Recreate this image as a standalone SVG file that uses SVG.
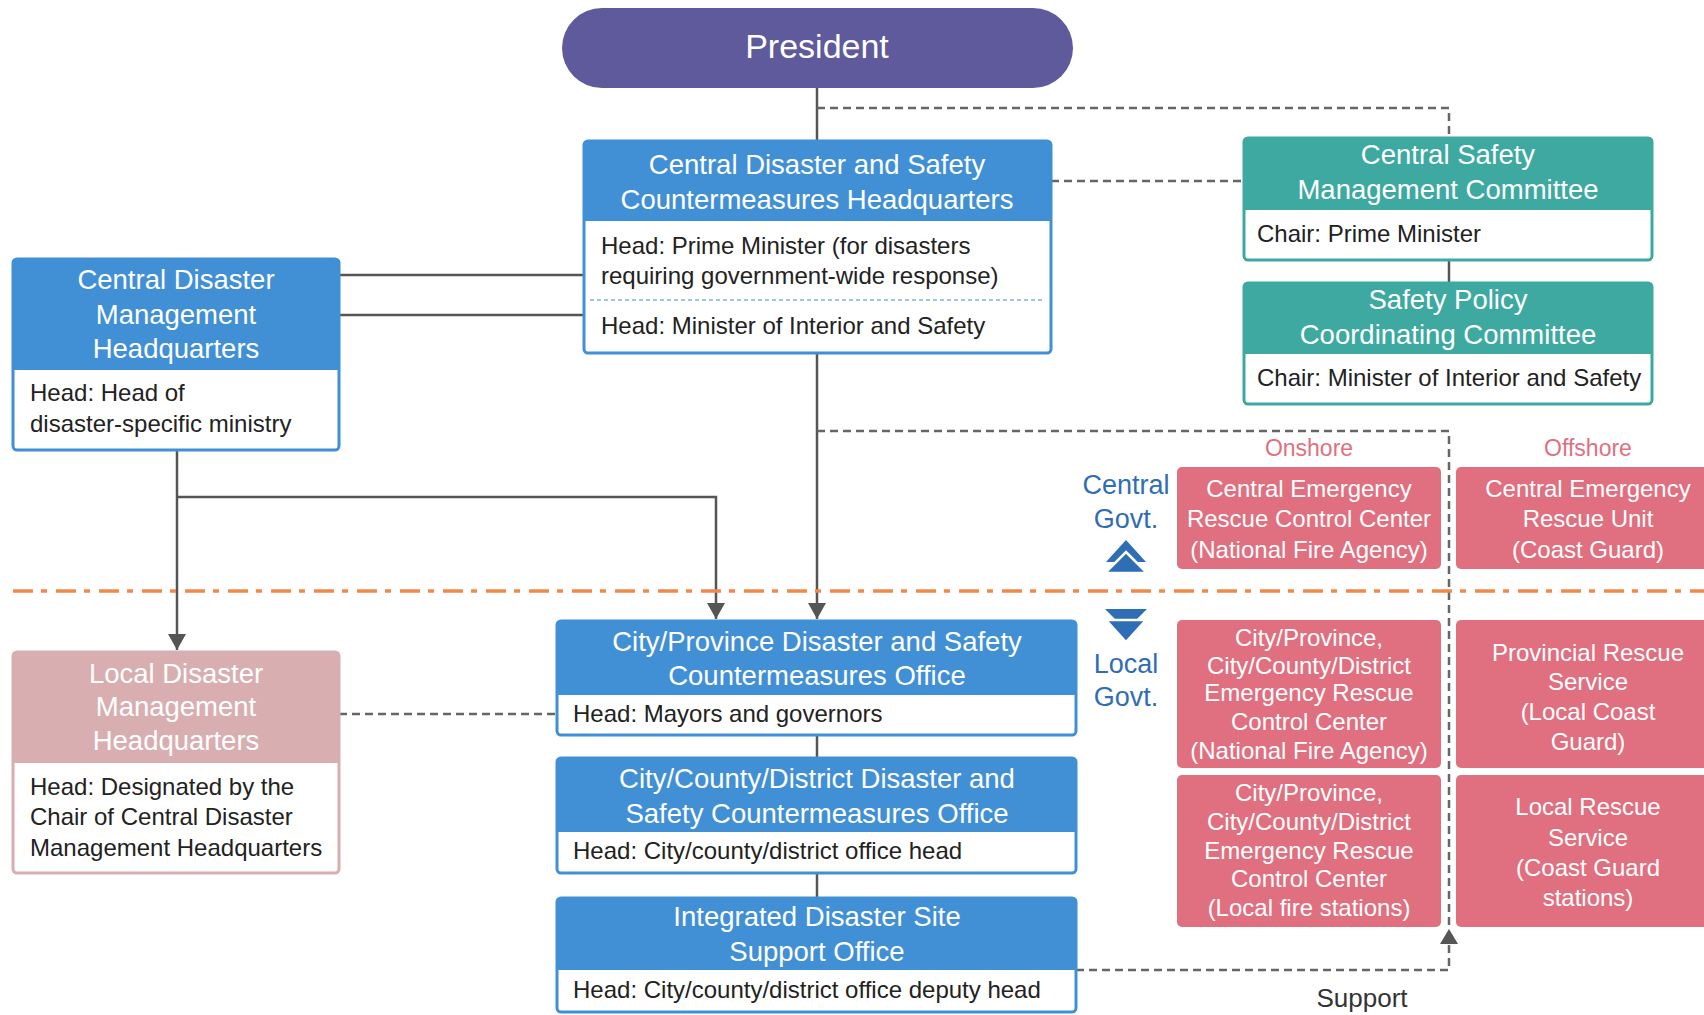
<svg xmlns="http://www.w3.org/2000/svg" width="1704" height="1015" viewBox="0 0 1704 1015">
<style>
text{font-family:"Liberation Sans",Arial,sans-serif}
.hd{fill:#fff;font-size:27.5px;text-anchor:middle}
.bd{fill:#222;font-size:24px}
.rs{fill:#fff;font-size:24px;text-anchor:middle}
.blue{fill:#4190D5}
.teal{fill:#3DA9A1}
.pk{fill:#E0707F}
.box{fill:#fff;stroke-width:3}
.ln{fill:none;stroke:#555;stroke-width:2.5}
.dl{fill:none;stroke:#666;stroke-width:2.5;stroke-dasharray:8 5}
.gv{fill:#2F6DB5;font-size:27px;text-anchor:middle}
.sh{fill:#E0707F;font-size:23px;text-anchor:middle}
.chev{fill:#2F6DB5}
</style>
<defs>
<marker id="arr" viewBox="0 0 10 10" refX="10" refY="5" markerWidth="16" markerHeight="18" markerUnits="userSpaceOnUse" orient="auto" preserveAspectRatio="none">
<path d="M0,0 L10,5 L0,10 z" fill="#555"/>
</marker>
</defs>
<rect width="1704" height="1015" fill="#fff"/>

<g id="connectors">
<path class="ln" d="M817,88 V141"/>
<path class="dl" d="M817,108 H1449 V138"/>
<path class="dl" d="M1051,181 H1244"/>
<path class="ln" d="M1449,260 V283"/>
<path class="ln" d="M339,275 H584"/>
<path class="ln" d="M339,315 H584"/>
<path class="ln" d="M177,450 V650" marker-end="url(#arr)"/>
<path class="ln" d="M177,497 H716 V619" marker-end="url(#arr)"/>
<path class="ln" d="M817,353 V619" marker-end="url(#arr)"/>
<path class="dl" d="M817,431 H1449 V929"/>
<path class="dl" d="M1076,970 H1449 V929"/>
<path d="M1449,929 L1458,944 L1440,944 z" fill="#555"/>
<path class="dl" d="M339,714 H557"/>
<path class="ln" d="M817,735 V758"/>
<path class="ln" d="M817,873 V898"/>
</g>

<g id="divider">
<path d="M13,591 H1704" fill="none" stroke="#F08A4B" stroke-width="3.5" stroke-dasharray="20 8 6 9"/>
</g>

<g id="president">
<rect x="562" y="8" width="511" height="80" rx="40" fill="#5E5A9B"/>
<text x="817" y="58" fill="#fff" font-size="34" text-anchor="middle">President</text>
</g>

<g id="cdsch">
<rect class="box" x="584" y="141" width="467" height="212" rx="4" stroke="#4190D5"/>
<path class="blue" d="M584,145 a4,4 0 0 1 4,-4 H1047 a4,4 0 0 1 4,4 V221 H584 z"/>
<text class="hd" x="817" y="174">Central Disaster and Safety</text>
<text class="hd" x="817" y="209">Countermeasures Headquarters</text>
<text class="bd" x="601" y="254">Head: Prime Minister (for disasters</text>
<text class="bd" x="601" y="284">requiring government-wide response)</text>
<path d="M590,300 H1045" stroke="#7FB3E3" stroke-width="1.5" stroke-dasharray="4 3"/>
<text class="bd" x="601" y="334">Head: Minister of Interior and Safety</text>
</g>

<g id="csmc">
<rect class="box" x="1244" y="138" width="408" height="122" rx="4" stroke="#3DA9A1"/>
<path class="teal" d="M1244,142 a4,4 0 0 1 4,-4 H1648 a4,4 0 0 1 4,4 V210 H1244 z"/>
<text class="hd" x="1448" y="164">Central Safety</text>
<text class="hd" x="1448" y="199">Management Committee</text>
<text class="bd" x="1257" y="242">Chair: Prime Minister</text>
</g>

<g id="spcc">
<rect class="box" x="1244" y="283" width="408" height="121" rx="4" stroke="#3DA9A1"/>
<path class="teal" d="M1244,287 a4,4 0 0 1 4,-4 H1648 a4,4 0 0 1 4,4 V354 H1244 z"/>
<text class="hd" x="1448" y="309">Safety Policy</text>
<text class="hd" x="1448" y="344">Coordinating Committee</text>
<text class="bd" x="1257" y="386">Chair: Minister of Interior and Safety</text>
</g>

<g id="cdmh">
<rect class="box" x="13" y="259" width="326" height="191" rx="4" stroke="#4190D5"/>
<path class="blue" d="M13,263 a4,4 0 0 1 4,-4 H335 a4,4 0 0 1 4,4 V370 H13 z"/>
<text class="hd" x="176" y="289">Central Disaster</text>
<text class="hd" x="176" y="324">Management</text>
<text class="hd" x="176" y="358">Headquarters</text>
<text class="bd" x="30" y="401">Head: Head of</text>
<text class="bd" x="30" y="432">disaster-specific ministry</text>
</g>

<g id="ldmh">
<rect class="box" x="13" y="652" width="326" height="221" rx="4" stroke="#D9AEB1"/>
<path d="M13,656 a4,4 0 0 1 4,-4 H335 a4,4 0 0 1 4,4 V763 H13 z" fill="#D9AEB1"/>
<text class="hd" x="176" y="683">Local Disaster</text>
<text class="hd" x="176" y="716">Management</text>
<text class="hd" x="176" y="750">Headquarters</text>
<text class="bd" x="30" y="795">Head: Designated by the</text>
<text class="bd" x="30" y="825">Chair of Central Disaster</text>
<text class="bd" x="30" y="856">Management Headquarters</text>
</g>

<g id="cpdsco">
<rect class="box" x="557" y="621" width="519" height="114" rx="4" stroke="#4190D5"/>
<path class="blue" d="M557,625 a4,4 0 0 1 4,-4 H1072 a4,4 0 0 1 4,4 V695 H557 z"/>
<text class="hd" x="817" y="651">City/Province Disaster and Safety</text>
<text class="hd" x="817" y="685">Countermeasures Office</text>
<text class="bd" x="573" y="722">Head: Mayors and governors</text>
</g>

<g id="ccddsco">
<rect class="box" x="557" y="758" width="519" height="115" rx="4" stroke="#4190D5"/>
<path class="blue" d="M557,762 a4,4 0 0 1 4,-4 H1072 a4,4 0 0 1 4,4 V832 H557 z"/>
<text class="hd" x="817" y="788">City/County/District Disaster and</text>
<text class="hd" x="817" y="823">Safety Countermeasures Office</text>
<text class="bd" x="573" y="859">Head: City/county/district office head</text>
</g>

<g id="idsso">
<rect class="box" x="557" y="898" width="519" height="114" rx="4" stroke="#4190D5"/>
<path class="blue" d="M557,902 a4,4 0 0 1 4,-4 H1072 a4,4 0 0 1 4,4 V970 H557 z"/>
<text class="hd" x="817" y="926">Integrated Disaster Site</text>
<text class="hd" x="817" y="961">Support Office</text>
<text class="bd" x="573" y="998">Head: City/county/district office deputy head</text>
</g>

<g id="labels">
<text class="sh" x="1309" y="456">Onshore</text>
<text class="sh" x="1588" y="456">Offshore</text>
<text class="gv" x="1126" y="494">Central</text>
<text class="gv" x="1126" y="528">Govt.</text>
<text class="gv" x="1126" y="673">Local</text>
<text class="gv" x="1126" y="706">Govt.</text>
<text x="1362" y="1007" fill="#333" font-size="26" text-anchor="middle">Support</text>
</g>

<g id="chevron-up">
<path class="chev" d="M1126,540 L1146,562 L1106,562 z"/>
<path class="chev" d="M1126,552 L1147,573 L1105,573 z" stroke="#fff" stroke-width="2.5" stroke-linejoin="miter"/>
</g>
<g id="chevron-down">
<path class="chev" d="M1105,609 L1147,609 L1126,630 z"/>
<path class="chev" d="M1106,620 L1146,620 L1126,642 z" stroke="#fff" stroke-width="2.5" stroke-linejoin="miter"/>
</g>

<g id="cercc">
<rect class="pk" x="1177" y="467" width="264" height="102" rx="5"/>
<text class="rs" x="1309" y="497">Central Emergency</text>
<text class="rs" x="1309" y="527">Rescue Control Center</text>
<text class="rs" x="1309" y="558">(National Fire Agency)</text>
</g>
<g id="ceru">
<rect class="pk" x="1456" y="467" width="252" height="102" rx="5"/>
<text class="rs" x="1588" y="497">Central Emergency</text>
<text class="rs" x="1588" y="527">Rescue Unit</text>
<text class="rs" x="1588" y="558">(Coast Guard)</text>
</g>
<g id="lercc-nfa">
<rect class="pk" x="1177" y="620" width="264" height="148" rx="5"/>
<text class="rs" x="1309" y="646">City/Province,</text>
<text class="rs" x="1309" y="674">City/County/District</text>
<text class="rs" x="1309" y="701">Emergency Rescue</text>
<text class="rs" x="1309" y="730">Control Center</text>
<text class="rs" x="1309" y="759">(National Fire Agency)</text>
</g>
<g id="prs">
<rect class="pk" x="1456" y="620" width="252" height="148" rx="5"/>
<text class="rs" x="1588" y="661">Provincial Rescue</text>
<text class="rs" x="1588" y="690">Service</text>
<text class="rs" x="1588" y="720">(Local Coast</text>
<text class="rs" x="1588" y="750">Guard)</text>
</g>
<g id="lercc-lfs">
<rect class="pk" x="1177" y="775" width="264" height="152" rx="5"/>
<text class="rs" x="1309" y="801">City/Province,</text>
<text class="rs" x="1309" y="830">City/County/District</text>
<text class="rs" x="1309" y="859">Emergency Rescue</text>
<text class="rs" x="1309" y="887">Control Center</text>
<text class="rs" x="1309" y="916">(Local fire stations)</text>
</g>
<g id="lrs">
<rect class="pk" x="1456" y="775" width="252" height="152" rx="5"/>
<text class="rs" x="1588" y="815">Local Rescue</text>
<text class="rs" x="1588" y="846">Service</text>
<text class="rs" x="1588" y="876">(Coast Guard</text>
<text class="rs" x="1588" y="906">stations)</text>
</g>
</svg>
